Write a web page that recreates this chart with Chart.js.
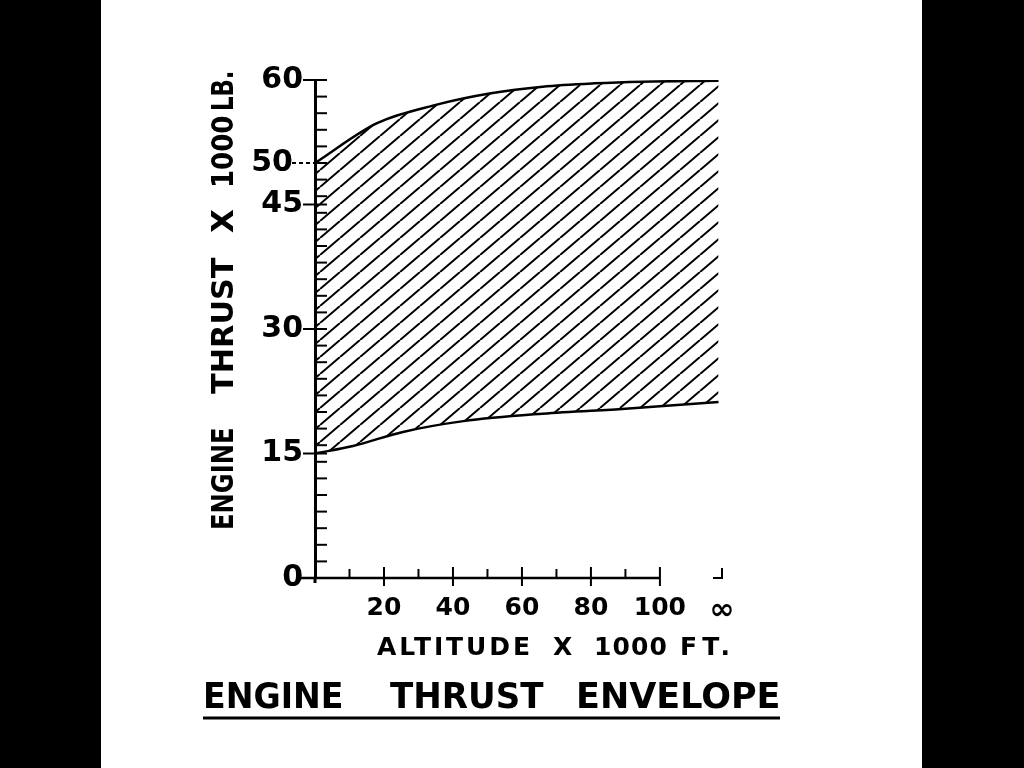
<!DOCTYPE html>
<html>
<head>
<meta charset="utf-8">
<title>Engine Thrust Envelope</title>
<script src="https://cdn.jsdelivr.net/npm/chart.js@4.4.1/dist/chart.umd.min.js"></script>
<style>
  html, body { margin: 0; padding: 0; }
  body {
    width: 1024px; height: 768px; overflow: hidden;
    background: linear-gradient(to right, #000 0, #000 101px, #fff 101px, #fff 922px, #000 922px);
  }
  #wrap { position: relative; width: 1024px; height: 768px; }
</style>
</head>
<body>
<div id="wrap"><canvas id="envelope"></canvas></div>
<script>
// Altitude in 1000 ft, thrust in 1000 lb
const upperAltitude = [0, 18, 35, 51, 66, 81, 95, 117];
const upperThrust   = [50, 54.8, 57.0, 58.4, 59.2, 59.6, 59.8, 59.9];
const lowerAltitude = [0, 11, 25.5, 43, 66, 90, 117];
const lowerThrust   = [15, 15.9, 17.6, 18.9, 19.8, 20.4, 21.2];

const altitudeTicks  = [10, 20, 30, 40, 50, 60, 70, 80, 90, 100];
const altitudeLabels = [20, 40, 60, 80, 100];
const infinityAltitude = 118;      // the "∞" mark past the end of the axis
const thrustLabels = [0, 15, 30, 45, 50, 60];
const thrustStep = 2;              // small ticks on the thrust axis

const FONT = '"DejaVu Sans", "Liberation Sans", sans-serif';

const canvas = document.getElementById('envelope');

// diagonal hatching for the envelope (tile w x h gives one slanted line)
function makeHatch(w, h) {
    const c = document.createElement('canvas');
    c.width = w; c.height = h;
    const g = c.getContext('2d');
    g.strokeStyle = '#000';
    g.lineWidth = 2;
    g.beginPath();
    for (const dx of [-w, 0, w]) {
        g.moveTo(dx, h);
        g.lineTo(dx + w, 0);
    }
    g.stroke();
    return canvas.getContext('2d').createPattern(c, 'repeat');
}

function line(ctx, x1, y1, x2, y2) {
    ctx.beginPath();
    ctx.moveTo(x1, y1);
    ctx.lineTo(x2, y2);
    ctx.stroke();
}

// draw a word from a left edge so it spans a given width
function spreadText(ctx, text, left, y, width) {
    ctx.letterSpacing = '0px';
    const w = ctx.measureText(text).width;
    let ls = 0;
    if (w < width && text.length > 1) {
        ls = (width - w) / (text.length - 1);
        ctx.letterSpacing = ls + 'px';
    }
    ctx.fillText(text, left, y, width + ls + 0.5);
    ctx.letterSpacing = '0px';
}

const penPlugin = {
    id: 'pen',
    afterDraw(chart) {
        const ctx = chart.ctx;
        const xs = chart.scales.x;
        const ys = chart.scales.y;
        const x0 = xs.getPixelForValue(0);
        const y0 = ys.getPixelForValue(0);

        ctx.save();
        ctx.strokeStyle = '#000';
        ctx.fillStyle = '#000';

        // altitude axis line, stops at 100
        ctx.lineWidth = 2.5;
        line(ctx, x0 - 15, y0, xs.getPixelForValue(100), y0);
        // thrust axis runs a little past zero
        ctx.lineWidth = 3;
        line(ctx, x0, y0, x0, y0 + 5);

        ctx.lineWidth = 2;
        altitudeTicks.forEach(v => {
            const px = xs.getPixelForValue(v);
            const major = altitudeLabels.includes(v);
            line(ctx, px, y0 - (major ? 11 : 9), px, y0 + (major ? 8 : 0));
        });

        // little corner mark at infinity
        const pInf = xs.getPixelForValue(infinityAltitude);
        ctx.beginPath();
        ctx.moveTo(pInf, y0 - 10);
        ctx.lineTo(pInf, y0);
        ctx.lineTo(pInf - 9, y0);
        ctx.stroke();

        // thrust ticks point inward, labelled ones cross the axis
        ys.ticks.forEach(t => {
            const py = ys.getPixelForValue(t.value);
            const crossing = thrustLabels.includes(t.value) && t.value !== 50;
            line(ctx, crossing ? x0 - 12 : x0, py, x0 + 12, py);
        });

        // dashed leader after "50"
        const p50 = ys.getPixelForValue(50);
        ctx.setLineDash([4, 3]);
        line(ctx, x0 - 23, p50, x0, p50);
        ctx.setLineDash([]);

        ctx.textAlign = 'left';
        ctx.textBaseline = 'alphabetic';

        // altitude title, word by word
        ctx.font = 'bold 25px ' + FONT;
        spreadText(ctx, 'ALTITUDE', 377, 655, 153);
        spreadText(ctx, 'X', 553, 655, 19);
        spreadText(ctx, '1000', 594, 655, 73);
        spreadText(ctx, 'FT.', 680, 655, 50);

        // thrust title, rotated
        ctx.save();
        ctx.translate(222, 0);
        ctx.rotate(-Math.PI / 2);
        ctx.font = 'bold 31px ' + FONT;
        spreadText(ctx, 'ENGINE', -530, 11, 102);
        spreadText(ctx, 'THRUST', -394, 11, 136);
        spreadText(ctx, 'X', -233, 11, 25);
        spreadText(ctx, '1000', -188, 11, 72);
        spreadText(ctx, 'LB.', -111, 11, 40);
        ctx.restore();

        // main title with underline
        ctx.font = 'bold 35px ' + FONT;
        spreadText(ctx, 'ENGINE', 203, 708, 140);
        spreadText(ctx, 'THRUST', 390, 708, 153);
        spreadText(ctx, 'ENVELOPE', 576, 708, 204);
        ctx.lineWidth = 3;
        line(ctx, 203, 718, 780, 718);

        ctx.restore();
    }
};

new Chart(canvas, {
    type: 'line',
    data: {
        datasets: [{
            label: 'Minimum thrust',
            data: lowerAltitude.map((a, i) => ({ x: a, y: lowerThrust[i] })),
            borderColor: '#000',
            borderWidth: 2.5,
            pointRadius: 0,
            fill: false,
            cubicInterpolationMode: 'monotone'
        }, {
            label: 'Maximum thrust',
            data: upperAltitude.map((a, i) => ({ x: a, y: upperThrust[i] })),
            borderColor: '#000',
            borderWidth: 2.5,
            pointRadius: 0,
            fill: '-1',
            backgroundColor: makeHatch(20, 17),
            cubicInterpolationMode: 'monotone'
        }]
    },
    options: {
        responsive: true,
        maintainAspectRatio: false,
        animation: false,
        layout: { padding: { left: 0, top: 80, right: 302, bottom: 0 } },
        plugins: {
            legend: { display: false },
            tooltip: { enabled: false }
        },
        scales: {
            x: {
                type: 'linear',
                min: 0,
                max: infinityAltitude,
                grid: { display: false, drawTicks: false },
                border: { display: false },
                afterBuildTicks: scale => {
                    scale.ticks = altitudeTicks.concat([infinityAltitude]).map(v => ({ value: v }));
                },
                afterFit: scale => { scale.height = 190; },
                ticks: {
                    autoSkip: false,
                    maxRotation: 0,
                    padding: 15,
                    color: '#000',
                    font: c => ({
                        family: FONT,
                        size: c.tick && c.tick.value === infinityAltitude ? 30 : 25,
                        weight: 'bold'
                    }),
                    callback: v => v === infinityAltitude ? '∞' : (altitudeLabels.includes(v) ? String(v) : '')
                }
            },
            y: {
                min: 0,
                max: 60,
                grid: { display: false, drawTicks: false },
                border: { display: true, color: '#000', width: 3 },
                afterBuildTicks: scale => {
                    const vals = [15, 45];
                    for (let v = 0; v <= 60; v += thrustStep) vals.push(v);
                    vals.sort((a, b) => a - b);
                    scale.ticks = vals.map(v => ({ value: v }));
                },
                afterFit: scale => { scale.width = 315; },
                ticks: {
                    autoSkip: false,
                    padding: 12,
                    color: '#000',
                    font: { family: FONT, size: 30, weight: 'bold' },
                    callback: v => v === 50 ? '50\u2006\u2006' : (thrustLabels.includes(v) ? String(v) : '')
                }
            }
        }
    },
    plugins: [penPlugin]
});
</script>
</body>
</html>
